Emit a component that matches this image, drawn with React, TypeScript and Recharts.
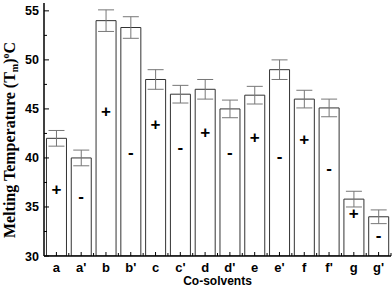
import React from 'react';
import { ComposedChart, Bar, ErrorBar, Scatter, XAxis, YAxis } from 'recharts';

// co-solvent labels, melting temperatures and errors
const solvents = ['a', "a'", 'b', "b'", 'c', "c'", 'd', "d'", 'e', "e'", 'f', "f'", 'g', "g'"];
const tmValues = [42.0, 40.0, 54.0, 53.3, 48.0, 46.5, 47.0, 45.0, 46.4, 49.0, 46.0, 45.1, 35.8, 34.0];
const tmErrors = [0.8, 0.8, 1.1, 1.1, 1.0, 0.9, 1.0, 0.9, 0.9, 1.0, 0.9, 0.9, 0.8, 0.7];
const signs = ['+', '-', '+', '-', '+', '-', '+', '-', '+', '-', '+', '-', '+', '-'];
const signLevels = [36.8, 36.05, 44.7, 40.6, 43.4, 41.1, 42.6, 40.6, 42.1, 40.1, 41.9, 38.95, 34.3, 32.1];
const yTicks = [30, 32.5, 35, 37.5, 40, 42.5, 45, 47.5, 50, 52.5, 55];

const data = solvents.map((name, i) => ({
  name,
  tm: tmValues[i],
  err: tmErrors[i],
  sign: signLevels[i],
  sym: signs[i],
}));

const sans = 'Arial, "Liberation Sans", sans-serif';
const serif = '"Times New Roman", "Liberation Serif", serif';

const isMajor = (v: number) => Math.abs(v % 5) < 0.01;

const LeftTick = (props: any) => {
  const { x, y, payload } = props;
  const major = isMajor(payload.value);
  return (
    <g>
      <line x1={x} y1={y} x2={x + (major ? 5 : 3)} y2={y} stroke="#000" strokeWidth={1} />
      {major && (
        <text x={x - 5} y={y} dy={4.5} textAnchor="end" fontFamily={sans} fontWeight="bold" fontSize={12.5} fill="#000">
          {payload.value}
        </text>
      )}
    </g>
  );
};

const RightTick = (props: any) => {
  const { x, y, payload } = props;
  const major = isMajor(payload.value);
  return <line x1={x - (major ? 5 : 3)} y1={y} x2={x} y2={y} stroke="#000" strokeWidth={1} />;
};

const BottomTick = (props: any) => {
  const { x, y, payload, width, visibleTicksCount } = props;
  const half = (width || 347) / (visibleTicksCount || 14) / 2;
  return (
    <g>
      <line x1={x} y1={y} x2={x} y2={y - 4} stroke="#000" strokeWidth={1} />
      <line x1={x + half} y1={y} x2={x + half} y2={y - 3} stroke="#000" strokeWidth={1} />
      <text x={x} y={y + 16} textAnchor="middle" fontFamily={sans} fontWeight="bold" fontSize={13} fill="#000">
        {payload.value}
      </text>
    </g>
  );
};

const TopTick = (props: any) => {
  const { x, y, width, visibleTicksCount } = props;
  const half = (width || 347) / (visibleTicksCount || 14) / 2;
  return (
    <g>
      <line x1={x} y1={y} x2={x} y2={y + 4} stroke="#000" strokeWidth={1} />
      <line x1={x + half} y1={y} x2={x + half} y2={y + 3} stroke="#000" strokeWidth={1} />
    </g>
  );
};

const SignMark = (props: any) => {
  const { cx, cy, payload } = props;
  return (
    <text x={cx} y={cy} dy={5.5} textAnchor="middle" fontFamily={sans} fontWeight="bold" fontSize={17} fill="#000">
      {payload.sym}
    </text>
  );
};

const YLabel = () => (
  <text
    x={15}
    y={140}
    transform="rotate(-90 15 140)"
    textAnchor="middle"
    fontFamily={serif}
    fontWeight="bold"
    fontSize={16}
    fill="#000"
  >
    Melting Temperature (T
    <tspan fontSize={10} dy={3}>m</tspan>
    <tspan dy={-3}>)</tspan>
    <tspan fontSize={10} dy={-6}>o</tspan>
    <tspan dy={6}>C</tspan>
  </text>
);

export default function App() {
  return (
    <div style={{ position: 'absolute', left: 0, top: 0, width: 392, height: 287, background: '#fff' }}>
      <ComposedChart
        width={392}
        height={287}
        data={data}
        margin={{ top: 3, right: 1, bottom: 0, left: 0 }}
        barCategoryGap="10%"
      >
        <XAxis
          dataKey="name"
          height={31}
          tickSize={0}
          tickMargin={0}
          tick={BottomTick}
          interval={0}
          axisLine={{ stroke: '#000', strokeWidth: 1.5 }}
          label={{ value: 'Co-solvents', position: 'insideBottom', offset: 2, fontFamily: sans, fontWeight: 'bold', fontSize: 12, fill: '#000' }}
        />
        <XAxis
          xAxisId="top"
          dataKey="name"
          orientation="top"
          height={0}
          tickSize={0}
          tickMargin={0}
          tick={TopTick}
          interval={0}
          axisLine={{ stroke: '#000', strokeWidth: 1.5 }}
        />
        <YAxis
          domain={[30, 55.8]}
          ticks={yTicks}
          width={44}
          tickSize={0}
          tickMargin={0}
          tick={LeftTick}
          interval={0}
          allowDataOverflow
          axisLine={{ stroke: '#000', strokeWidth: 1.5 }}
          label={<YLabel />}
        />
        <YAxis
          yAxisId="right"
          orientation="right"
          domain={[30, 55.8]}
          ticks={yTicks}
          width={0}
          tickSize={0}
          tickMargin={0}
          tick={RightTick}
          interval={0}
          allowDataOverflow
          axisLine={{ stroke: '#000', strokeWidth: 1.5 }}
        />
        <Bar dataKey="tm" fill="#fff" stroke="#333" strokeWidth={1} isAnimationActive={false}>
          <ErrorBar dataKey="err" width={8} stroke="#777" strokeWidth={1} direction="y" />
        </Bar>
        <Scatter dataKey="sign" shape={SignMark} isAnimationActive={false} />
      </ComposedChart>
    </div>
  );
}
